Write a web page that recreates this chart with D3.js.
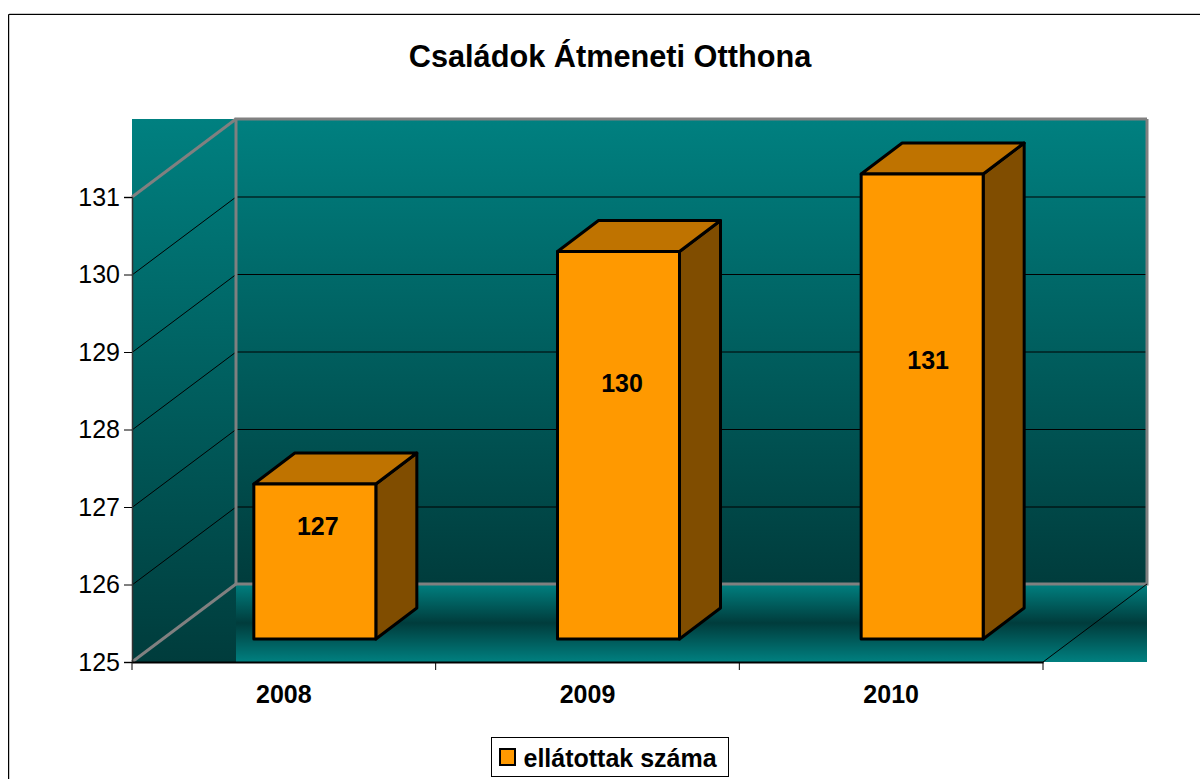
<!DOCTYPE html>
<html>
<head>
<meta charset="utf-8">
<script src="https://cdn.jsdelivr.net/npm/d3@7"></script>
<style>
  html, body { margin: 0; padding: 0; background: #fff; overflow: hidden; }
  svg { display: block; font-family: "Liberation Sans", Arial, sans-serif; }
</style>
</head>
<body>
<div id="wrapper"></div>
<script>
const title = "Családok Átmeneti Otthona"
const categories = ["2008", "2009", "2010"]
const values = [127, 130, 131]
const yTicks = [125, 126, 127, 128, 129, 130, 131]
const yDomain = [125, 131]
const seriesName = "ellátottak száma"

const drawChart = () => {
  const width = 1200
  const height = 779
  const plot = { left: 132, right: 1043, top: 119, bottom: 662 }
  const depth = { x: 104, y: 78 }
  const barDepth = { x: 41, y: 31 }
  const barLift = 23
  const barWidth = 122
  const fontSize = 25
  // the labels do not sit at the bar centres in the original
  const labelShift = [
    { x: 3, y: -36 },
    { x: 3.5, y: -62 },
    { x: 6, y: -47 },
  ]

  const svg = d3
    .select("#wrapper")
    .append("svg")
    .attr("width", width)
    .attr("height", height)

  // 1) Scales
  const xScale = d3
    .scaleBand()
    .domain(categories)
    .range([plot.left, plot.right])

  const yScale = d3.scaleLinear().domain(yDomain).range([plot.bottom, 197])

  // 2) Gradients
  const defs = svg.append("defs")
  const addGradient = (id, stops) => {
    defs
      .append("linearGradient")
      .attr("id", id)
      .attr("x1", 0)
      .attr("y1", 0)
      .attr("x2", 0)
      .attr("y2", 1)
      .selectAll("stop")
      .data(stops)
      .join("stop")
      .attr("offset", (d) => d[0])
      .attr("stop-color", (d) => d[1])
  }
  addGradient("wall", [[0, "#008080"], [1, "#003c3c"]])
  addGradient("floor", [[0, "#008080"], [0.5, "#003c3c"], [1, "#008080"]])

  // chart frame, runs off the right and bottom of the page
  svg
    .append("path")
    .attr("d", "M9.5,779V13.5H1200")
    .attr("fill", "none")
    .attr("stroke", "#c8c8c8")
  svg
    .append("path")
    .attr("d", "M8.5,779V14.5H1200")
    .attr("fill", "none")
    .attr("stroke", "#000")

  svg
    .append("text")
    .attr("x", 610)
    .attr("y", 67)
    .attr("text-anchor", "middle")
    .attr("font-size", 30.7)
    .attr("font-weight", "bold")
    .text(title)

  // 3) Walls and floor
  const backLeft = plot.left + depth.x
  const backRight = plot.right + depth.x
  const backBottom = plot.bottom - depth.y

  svg
    .append("rect")
    .attr("x", plot.left)
    .attr("y", plot.top)
    .attr("width", depth.x)
    .attr("height", plot.bottom - plot.top)
    .attr("fill", "url(#wall)")

  svg
    .append("rect")
    .attr("x", backLeft)
    .attr("y", plot.top)
    .attr("width", plot.right - plot.left)
    .attr("height", backBottom - plot.top)
    .attr("fill", "url(#wall)")

  svg
    .append("rect")
    .attr("x", backLeft)
    .attr("y", backBottom)
    .attr("width", plot.right - plot.left)
    .attr("height", depth.y)
    .attr("fill", "url(#floor)")

  // 4) Gridlines
  const gridTicks = yTicks.filter((d) => d > yDomain[0])
  svg
    .append("g")
    .selectAll("path")
    .data(gridTicks)
    .join("path")
    .attr("fill", "none")
    .attr("stroke", "#000")
    .attr(
      "d",
      (d) =>
        `M${plot.left},${yScale(d) + 0.5}L${backLeft},${yScale(d) - depth.y + 0.5}H${backRight}`
    )

  // grey wall edges
  const edges = [
    `M${plot.left},${yScale(yTicks[yTicks.length - 1])}L${backLeft},${plot.top}`,
    `M${backRight},${plot.top}H${backLeft}V${backBottom}H${backRight}V${plot.top}`,
    `M${plot.left},${plot.bottom}L${backLeft},${backBottom}`,
  ]
  svg
    .append("g")
    .selectAll("path")
    .data(edges)
    .join("path")
    .attr("d", (d) => d)
    .attr("fill", "none")
    .attr("stroke", "#808080")
    .attr("stroke-width", 3)

  svg
    .append("path")
    .attr("d", `M${plot.right},${plot.bottom}L${backRight},${backBottom}`)
    .attr("stroke", "#000")
    .attr("stroke-width", 1)

  // 5) Axes
  const yAxis = svg
    .append("g")
    .attr("transform", `translate(${plot.left},0)`)
    .call(
      d3
        .axisLeft(yScale)
        .tickValues(yTicks)
        .tickSize(8)
        .tickPadding(4)
        .tickFormat(d3.format("d"))
    )
  yAxis
    .selectAll("text")
    .attr("font-size", fontSize)
    .attr("font-family", "inherit")
  yAxis.select(".domain").attr("stroke", "#333").attr("stroke-width", 1.5)

  const xAxis = svg
    .append("g")
    .attr("transform", `translate(0,${plot.bottom})`)
    .call(d3.axisBottom(xScale).tickSize(0).tickPadding(23))
  xAxis
    .selectAll("text")
    .attr("font-size", fontSize)
    .attr("font-weight", "bold")
    .attr("font-family", "inherit")
  xAxis.select(".domain").attr("stroke", "#000").attr("stroke-width", 2)

  const xEdges = categories
    .map((d) => xScale(d))
    .concat(xScale(categories[categories.length - 1]) + xScale.bandwidth())
  svg
    .append("g")
    .selectAll("line")
    .data(xEdges)
    .join("line")
    .attr("x1", (d) => d)
    .attr("x2", (d) => d)
    .attr("y1", plot.bottom)
    .attr("y2", plot.bottom + 8)
    .attr("stroke", "#000")

  // 6) Bars
  const barX = (d) => xScale(d) + (xScale.bandwidth() - barWidth) / 2 + 31
  const barBottom = plot.bottom - barLift
  const barTop = (d) => yScale(d.value) - barLift

  const bars = svg
    .append("g")
    .selectAll("g")
    .data(categories.map((c, i) => ({ category: c, value: values[i], shift: labelShift[i] })))
    .join("g")
    .attr("stroke", "#000")
    .attr("stroke-width", 3)
    .attr("stroke-linejoin", "round")

  // side
  bars
    .append("path")
    .attr("fill", "#804d00")
    .attr("d", (d) => {
      const x = barX(d.category) + barWidth
      return `M${x},${barTop(d)}l${barDepth.x},${-barDepth.y}V${barBottom - barDepth.y}L${x},${barBottom}Z`
    })
  // top
  bars
    .append("path")
    .attr("fill", "#bf7300")
    .attr("d", (d) => {
      const x = barX(d.category)
      return `M${x},${barTop(d)}l${barDepth.x},${-barDepth.y}h${barWidth}l${-barDepth.x},${barDepth.y}Z`
    })
  // front
  bars
    .append("rect")
    .attr("fill", "#ff9900")
    .attr("x", (d) => barX(d.category))
    .attr("y", barTop)
    .attr("width", barWidth)
    .attr("height", (d) => barBottom - barTop(d))

  // value labels
  bars
    .append("text")
    .attr("x", (d) => barX(d.category) + barWidth / 2 + d.shift.x)
    .attr("y", (d) => (barTop(d) + barBottom) / 2 + d.shift.y + 9)
    .attr("text-anchor", "middle")
    .attr("stroke", "none")
    .attr("fill", "#000")
    .attr("font-size", fontSize)
    .attr("font-weight", "bold")
    .text((d) => d.value)

  // 7) Legend
  const legend = svg.append("g").attr("transform", "translate(491.5,737.5)")
  legend
    .append("rect")
    .attr("width", 237)
    .attr("height", 39)
    .attr("fill", "#fff")
    .attr("stroke", "#000")
    .attr("stroke-width", 1)
  legend
    .append("rect")
    .attr("x", 8.5)
    .attr("y", 11.5)
    .attr("width", 15)
    .attr("height", 16)
    .attr("fill", "#ff9900")
    .attr("stroke", "#000")
    .attr("stroke-width", 2)
  legend
    .append("text")
    .attr("x", 32)
    .attr("y", 29.5)
    .attr("font-size", fontSize)
    .attr("font-weight", "bold")
    .text(seriesName)
}

drawChart()
</script>
</body>
</html>
